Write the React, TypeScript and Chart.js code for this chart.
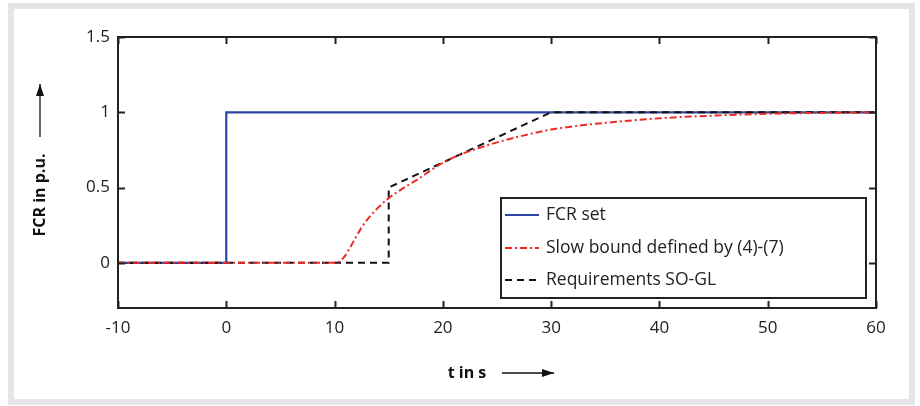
import React, { useEffect, useRef } from "react";
import { Chart, registerables } from "chart.js";

Chart.register(...registerables);

const FONT = "'Open Sans', 'DejaVu Sans', sans-serif";

const xTicks = [-10, 0, 10, 20, 30, 40, 50, 60];
const yTicks = [0, 0.5, 1, 1.5];

const setTime = [-10, 0, 0, 60];
const setValues = [0, 0, 1, 1];

const slowTime = [-10, 10, 10.5, 11, 11.5, 12, 12.5, 13, 14, 15, 16, 17, 18, 19, 20, 21, 22, 23, 25, 28, 30, 33, 35, 40, 45, 50, 55, 60];
const slowValues = [0, 0, 0.012, 0.05, 0.11, 0.175, 0.235, 0.285, 0.365, 0.43, 0.48, 0.525, 0.57, 0.62, 0.665, 0.7, 0.73, 0.755, 0.8, 0.855, 0.885, 0.915, 0.93, 0.96, 0.978, 0.99, 0.996, 1.0];

const reqTime = [-10, 15, 15, 30, 60];
const reqValues = [0, 0, 0.5, 1, 1];

const seriesLabels = ["FCR set", "Slow bound defined by (4)-(7)", "Requirements SO-GL"];
const xTitle = "t in s";
const yTitle = "FCR in p.u.";

const BLUE = "#2c45a3";
const RED = "#ee2a24";
const BLACK = "#111111";
const AXIS = "#222222";

function pts(xs: number[], ys: number[]) {
  return xs.map((x, i) => ({ x, y: ys[i] }));
}

const framePlugin = {
  id: "framePlugin",
  afterDraw(chart: any) {
    const { ctx, chartArea: a, scales } = chart;
    const xs = scales.x;
    const ys = scales.y;
    ctx.save();
    ctx.strokeStyle = AXIS;
    ctx.lineWidth = 2;
    ctx.setLineDash([]);
    ctx.strokeRect(a.left, a.top, a.right - a.left, a.bottom - a.top);
    const tl = 7;
    ctx.beginPath();
    xTicks.forEach((v) => {
      const px = Math.round(xs.getPixelForValue(v)) + 0.5;
      ctx.moveTo(px, a.bottom);
      ctx.lineTo(px, a.bottom - tl);
      ctx.moveTo(px, a.top);
      ctx.lineTo(px, a.top + tl);
    });
    yTicks.forEach((v) => {
      const py = Math.round(ys.getPixelForValue(v)) + 0.5;
      ctx.moveTo(a.left, py);
      ctx.lineTo(a.left + tl, py);
      ctx.moveTo(a.right, py);
      ctx.lineTo(a.right - tl, py);
    });
    ctx.stroke();

    // legend
    const lx = a.left + 383;
    const ly = a.top + 161;
    const lw = 365;
    const lh = 100;
    ctx.fillStyle = "#ffffff";
    ctx.fillRect(lx, ly, lw, lh);
    ctx.strokeStyle = AXIS;
    ctx.lineWidth = 2;
    ctx.strokeRect(lx, ly, lw, lh);
    const rows = [17, 50, 82];
    chart.data.datasets.forEach((ds: any, i: number) => {
      const yy = ly + rows[i];
      ctx.strokeStyle = ds.borderColor;
      ctx.lineWidth = 2;
      ctx.setLineDash(ds.borderDash || []);
      ctx.beginPath();
      ctx.moveTo(lx + 4, yy);
      ctx.lineTo(lx + 38, yy);
      ctx.stroke();
      ctx.setLineDash([]);
      ctx.fillStyle = "#222";
      ctx.font = `17.5px ${FONT}`;
      ctx.textBaseline = "middle";
      ctx.textAlign = "left";
      ctx.fillText(ds.label, lx + 45, yy);
    });

    // axis titles with arrows
    ctx.fillStyle = "#111";
    ctx.strokeStyle = "#111";
    ctx.font = `bold 16px ${FONT}`;
    ctx.textBaseline = "middle";
    ctx.textAlign = "center";
    const tx = a.left + 349;
    const ty = 373;
    ctx.fillText(xTitle, tx, ty);
    const arrow = (x1: number, y1: number, x2: number, y2: number) => {
      ctx.lineWidth = 1.3;
      ctx.beginPath();
      ctx.moveTo(x1, y1);
      ctx.lineTo(x2, y2);
      ctx.stroke();
      const ang = Math.atan2(y2 - y1, x2 - x1);
      const L = 12, W = 4;
      ctx.beginPath();
      ctx.moveTo(x2, y2);
      ctx.lineTo(x2 - L * Math.cos(ang) - W * Math.sin(ang), y2 - L * Math.sin(ang) + W * Math.cos(ang));
      ctx.lineTo(x2 - L * Math.cos(ang) + W * Math.sin(ang), y2 - L * Math.sin(ang) - W * Math.cos(ang));
      ctx.closePath();
      ctx.fill();
    };
    arrow(tx + 35, ty, tx + 87, ty);

    ctx.save();
    ctx.translate(40, 195);
    ctx.rotate(-Math.PI / 2);
    ctx.fillText(yTitle, 0, 0);
    ctx.restore();
    arrow(40, 137, 40, 84);
    ctx.restore();
  },
};

export default function App() {
  const ref = useRef<HTMLCanvasElement>(null);
  useEffect(() => {
    if (!ref.current) return;
    const chart = new Chart(ref.current, {
      type: "line",
      data: {
        datasets: [
          {
            label: seriesLabels[0],
            data: pts(setTime, setValues),
            borderColor: BLUE,
            borderWidth: 2.2,
            pointRadius: 0,
            order: 3,
          },
          {
            label: seriesLabels[1],
            data: pts(slowTime, slowValues),
            borderColor: RED,
            borderWidth: 2,
            borderDash: [7, 3, 2, 3],
            pointRadius: 0,
            cubicInterpolationMode: "monotone",
            order: 1,
          },
          {
            label: seriesLabels[2],
            data: pts(reqTime, reqValues),
            borderColor: BLACK,
            borderWidth: 2,
            borderDash: [7, 5],
            pointRadius: 0,
            order: 2,
          },
        ],
      },
      options: {
        animation: false,
        responsive: false,
        parsing: false as any,
        layout: { padding: { left: 0, top: 37, right: 44, bottom: 0 } },
        plugins: { legend: { display: false }, tooltip: { enabled: false } },
        scales: {
          x: {
            type: "linear",
            min: -10,
            max: 60,
            afterBuildTicks: (s: any) => {
              s.ticks = xTicks.map((v) => ({ value: v }));
            },
            afterFit: (s: any) => {
              s.height = 98;
            },
            grid: { display: false, drawTicks: false },
            border: { display: false },
            ticks: {
              padding: 10,
              color: "#222",
              font: { family: FONT, size: 17 },
              maxRotation: 0,
              callback: (v: any) => String(v),
            },
          },
          y: {
            type: "linear",
            min: -0.3,
            max: 1.5,
            afterBuildTicks: (s: any) => {
              s.ticks = yTicks.map((v) => ({ value: v }));
            },
            afterFit: (s: any) => {
              s.width = 118;
            },
            grid: { display: false, drawTicks: false },
            border: { display: false },
            ticks: {
              padding: 8,
              color: "#222",
              font: { family: FONT, size: 17 },
              callback: (v: any) => String(v),
            },
          },
        },
      },
      plugins: [framePlugin],
    });
    return () => chart.destroy();
  }, []);

  return (
    <div style={{ position: "fixed", left: 0, top: 0, width: 920, height: 406, background: "#fff" }}>
      <div
        style={{
          position: "absolute",
          left: 8,
          top: 3,
          width: 907,
          height: 402,
          border: "6px solid #e5e5e5",
          boxSizing: "border-box",
        }}
      />
      <canvas ref={ref} width={920} height={406} style={{ position: "absolute", left: 0, top: 0 }} />
    </div>
  );
}
